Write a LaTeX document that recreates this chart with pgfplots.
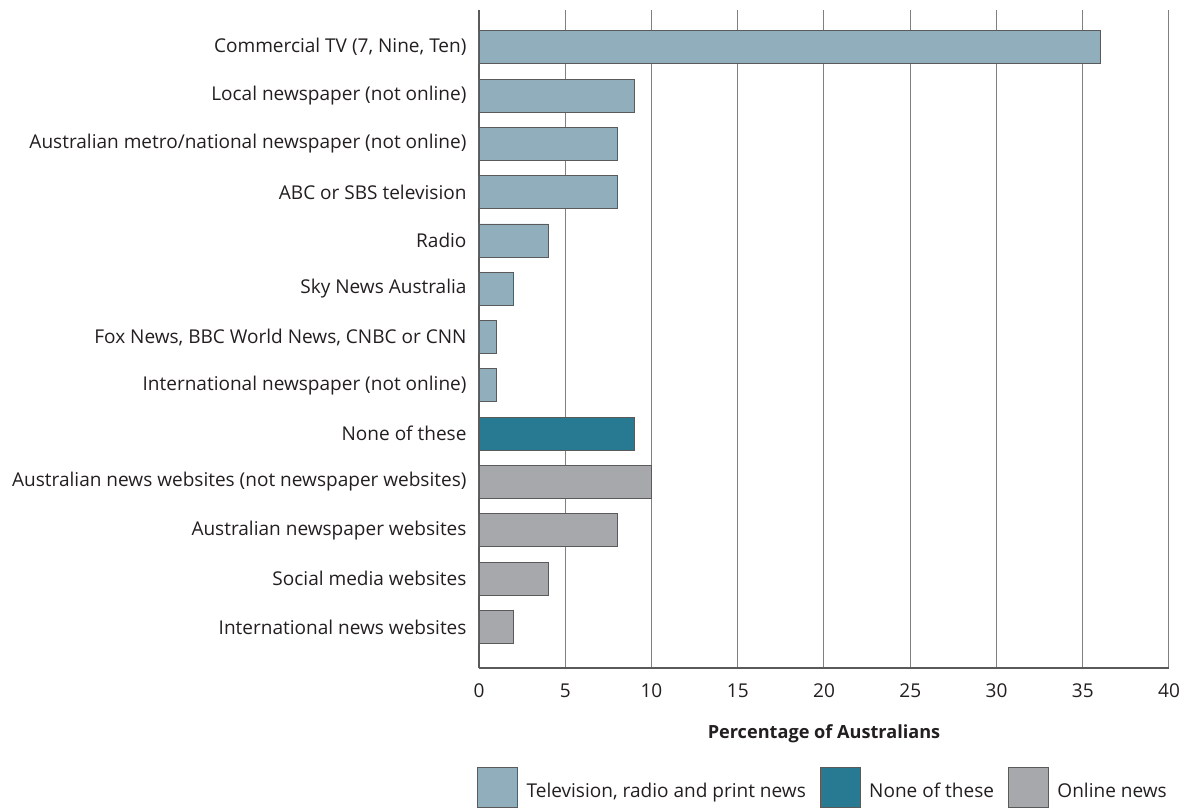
\documentclass[border=0pt]{standalone}
\usepackage{pgfplots}
\pgfplotsset{compat=1.18}
\usepackage{fontspec}
\setmainfont{Open Sans}
\definecolor{tvc}{HTML}{91AEBC}
\definecolor{nonec}{HTML}{287A92}
\definecolor{onc}{HTML}{A7A8AB}
\definecolor{edgec}{HTML}{5A5A5A}
\definecolor{gridc}{HTML}{808080}
\definecolor{txt}{HTML}{231F20}
\begin{document}
\begin{tikzpicture}
\begin{axis}[name=ax, scale only axis, width=690bp, height=658bp,
  xmin=0, xmax=40, ymin=-0.77, ymax=12.85, y dir=reverse,
  xbar, bar width=33bp, bar shift=0pt,
  xtick={0,5,...,40}, ytick={0,...,12},
  yticklabels={{Commercial TV (7, Nine, Ten)},{Local newspaper (not online)},{Australian metro/national newspaper (not online)},{ABC or SBS television},{Radio},{Sky News Australia},{Fox News, BBC World News, CNBC or CNN},{International newspaper (not online)},{None of these},{Australian news websites (not newspaper websites)},{Australian newspaper websites},{Social media websites},{International news websites}},
  xmajorgrids, major grid style={gridc, line width=1bp},
  axis x line=bottom, axis y line=left, axis line style={edgec, line width=1.5bp, -},
  major tick length=0pt,
  tick label style={font=\fontsize{19.1}{22}\selectfont, text=txt},
  yticklabel style={xshift=-9bp},
  xticklabel style={yshift=-12bp},
  /pgf/number format/assume math mode=true,
  xlabel={\textbf{Percentage of Australians}},
  xlabel style={font=\fontsize{18.2}{21}\selectfont, text=txt, yshift=-20bp},
  legend style={at={(0.5,0)}, anchor=north, yshift=-97bp, xshift=-1bp, draw=none, fill=none,
    font=\fontsize{19.1}{22}\selectfont, text=txt,
    /tikz/every even column/.append style={column sep=12bp}},
  legend columns=3,
  legend image code/.code={\draw[#1] (0bp,-17bp) rectangle (40bp,23bp); \path[draw=none,fill=none] (0bp,0bp) -- (47bp,0bp);},
]
\addplot[fill=tvc, draw=edgec, line width=0.8bp] coordinates {(36,0) (9,1) (8,2) (8,3) (4,4) (2,5) (1,6) (1,7)};
\addplot[fill=nonec, draw=edgec, line width=0.8bp] coordinates {(9,8)};
\addplot[fill=onc, draw=edgec, line width=0.8bp] coordinates {(10,9) (8,10) (4,11) (2,12)};
\legend{{Television, radio and print news}, {None of these}, {Online news}}
\end{axis}
\pgfresetboundingbox
\path[use as bounding box] ([xshift=-479bp,yshift=-141bp]ax.south west) rectangle ([xshift=21bp,yshift=10bp]ax.north east);
\end{tikzpicture}
\end{document}
